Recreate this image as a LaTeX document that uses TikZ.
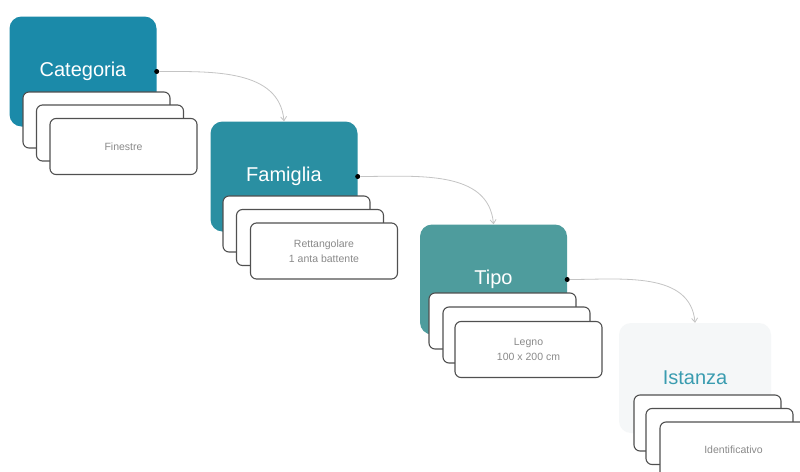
\documentclass[tikz,border=0pt]{standalone}
\usepackage{fontspec}
\setmainfont{Liberation Sans}
\usetikzlibrary{arrows.meta}
\definecolor{catc}{HTML}{1B8AA9}
\definecolor{famc}{HTML}{2A8FA2}
\definecolor{tipc}{HTML}{4E9C9D}
\definecolor{istc}{HTML}{F5F7F8}
\definecolor{isttxt}{HTML}{3A9CB0}
\definecolor{cardline}{HTML}{505050}
\definecolor{cardtxt}{HTML}{8A8A8A}
\definecolor{arrc}{HTML}{C4C4C4}
\begin{document}
\begin{tikzpicture}[x=1pt,y=1pt,
  bigbox/.style={rounded corners=12pt, minimum width=147pt, minimum height=110pt, inner sep=0pt,
     text=white, font=\fontsize{20}{24}\selectfont},
  card/.style={draw=cardline, line width=1.1pt, fill=white, rounded corners=6pt,
     minimum width=147pt, minimum height=56pt, inner sep=0pt, align=center,
     text=cardtxt, font=\fontsize{10.5}{15}\selectfont},
  dotnode/.style={circle, fill=black, inner sep=0pt, minimum size=5pt},
  link/.style={draw=arrc, line width=0.8pt, -{Straight Barb[length=4pt,width=6pt]}}
]
\path[use as bounding box, clip] (0,0) rectangle (800,-471);
\fill[white] (0,0) rectangle (800,-471);

% main boxes
\node[bigbox, fill=catc] (cat) at (83,-71.5) {Categoria};
\node[bigbox, fill=famc] (fam) at (284,-176.5) {Famiglia};
\node[bigbox, fill=tipc] (tip) at (493.5,-279.5) {Tipo};
\node[bigbox, fill=istc, text=isttxt, minimum width=152pt] (ist) at (695,-378) {Istanza};

% cards
\node[card] (cat1) at (96.5,-120) {};
\node[card] (cat2) at (110,-133) {};
\node[card] (cat3) at (123.5,-146.5) {Finestre};

\node[card] (fam1) at (296.5,-224) {};
\node[card] (fam2) at (310,-237.5) {};
\node[card] (fam3) at (324,-251) {Rettangolare\\1 anta battente};

\node[card] (tip1) at (502.5,-321) {};
\node[card] (tip2) at (516.5,-335) {};
\node[card] (tip3) at (528.5,-349.5) {Legno\\100 x 200 cm};

\node[card] (ist1) at (707.5,-423) {};
\node[card] (ist2) at (719.5,-436.5) {};
\node[card] (ist3) at (733.5,-450) {Identificativo};

% dots
\node[dotnode] (catd) at (cat.east) {};
\node[dotnode] (famd) at (fam.east) {};
\node[dotnode] (tipd) at (tip.east) {};

% links
\draw[link] (catd) to[out=0, in=95] (fam.north);
\draw[link] (famd) to[out=0, in=95] (tip.north);
\draw[link] (tipd) to[out=0, in=95] (ist.north);
\end{tikzpicture}
\end{document}
